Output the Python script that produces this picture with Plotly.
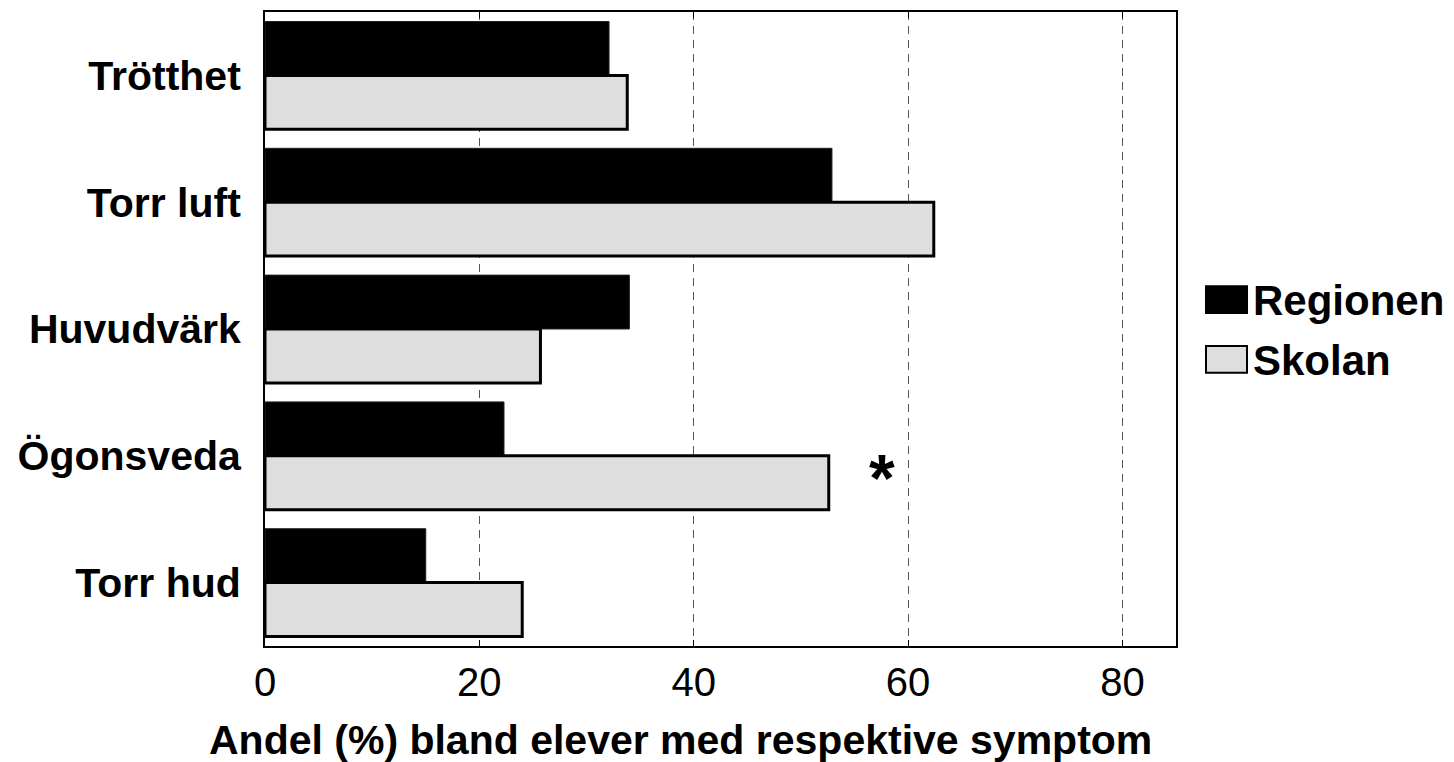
import plotly.graph_objects as go

categories = ["Trötthet", "Torr luft", "Huvudvärk", "Ögonsveda", "Torr hud"]
regionen = [32.1, 52.9, 34.0, 22.3, 15.0]
skolan = [33.8, 62.4, 25.7, 52.6, 24.0]
x_ticks = [0, 20, 40, 60, 80]
series_names = ["Regionen", "Skolan"]
series_colors = ["#000000", "#dedede"]
x_title = "Andel (%) bland elever med respektive symptom"

FONT = "Liberation Sans, Arial, sans-serif"

fig = go.Figure()
fig.add_trace(go.Bar(
    y=categories, x=regionen, orientation="h", name=series_names[0],
    marker=dict(color=series_colors[0], line=dict(color="#222222", width=1)),
))
fig.add_trace(go.Bar(
    y=categories, x=skolan, orientation="h", name=series_names[1],
    marker=dict(color=series_colors[1], line=dict(color="black", width=3)),
))

# significance marker
fig.add_annotation(x=57.6, y="Ögonsveda", yshift=-22, text="<b>*</b>", showarrow=False,
                   font=dict(family=FONT, size=66, color="black"))

W, H = 1454, 762
L, T, R, B = 257, 2, 286, 124
pw, ph = W - L - R, H - T - B
def px(x):
    return (x - 8 - L) / pw
def py(y):
    return 1 - (y - 8 - T) / ph

# custom legend (large symbols like the reference)
legend_rows = [(285, 312), (345, 372)]
for name, col, (y0, y1) in zip(series_names, series_colors, legend_rows):
    fig.add_shape(type="rect", xref="paper", yref="paper",
                  x0=px(1206), x1=px(1247), y0=py(y1), y1=py(y0),
                  fillcolor=col, line=dict(color="black", width=2))
    fig.add_annotation(xref="paper", yref="paper", x=px(1251), y=py((y0 + y1) / 2 + 1),
                       xanchor="left", yanchor="middle", showarrow=False,
                       text=f"<b>{name}</b>",
                       font=dict(family=FONT, size=42, color="black"))

# x-axis title
fig.add_annotation(xref="paper", yref="paper", x=px(207), y=py(740),
                   xanchor="left", yanchor="middle", showarrow=False,
                   text=f"<b>{x_title}</b>",
                   font=dict(family=FONT, size=41, color="black"))

fig.update_layout(
    width=W, height=H,
    margin=dict(l=L, r=R, t=T, b=B),
    plot_bgcolor="white", paper_bgcolor="white",
    barmode="group", bargap=0.15, bargroupgap=0,
    font=dict(family=FONT, color="black"),
    showlegend=False,
    xaxis=dict(
        range=[0, 85], tickvals=x_ticks, ticktext=[str(v) for v in x_ticks],
        showgrid=True, gridcolor="#555555", griddash="8px,6px", gridwidth=1,
        showline=True, linecolor="black", linewidth=2, mirror="ticks",
        ticks="inside", ticklen=6, tickcolor="black",
        tickfont=dict(family=FONT, size=40, color="black"),
        zeroline=False,
    ),
    yaxis=dict(
        autorange="reversed",
        showline=True, linecolor="black", linewidth=2, mirror=True,
        ticks="", tickfont=dict(family=FONT, size=41, color="black"),
        ticklabelstandoff=14,
    ),
)
fig.update_yaxes(ticktext=[f"<b>{c}</b>" for c in categories], tickvals=categories)

fig.write_html("out.html")
